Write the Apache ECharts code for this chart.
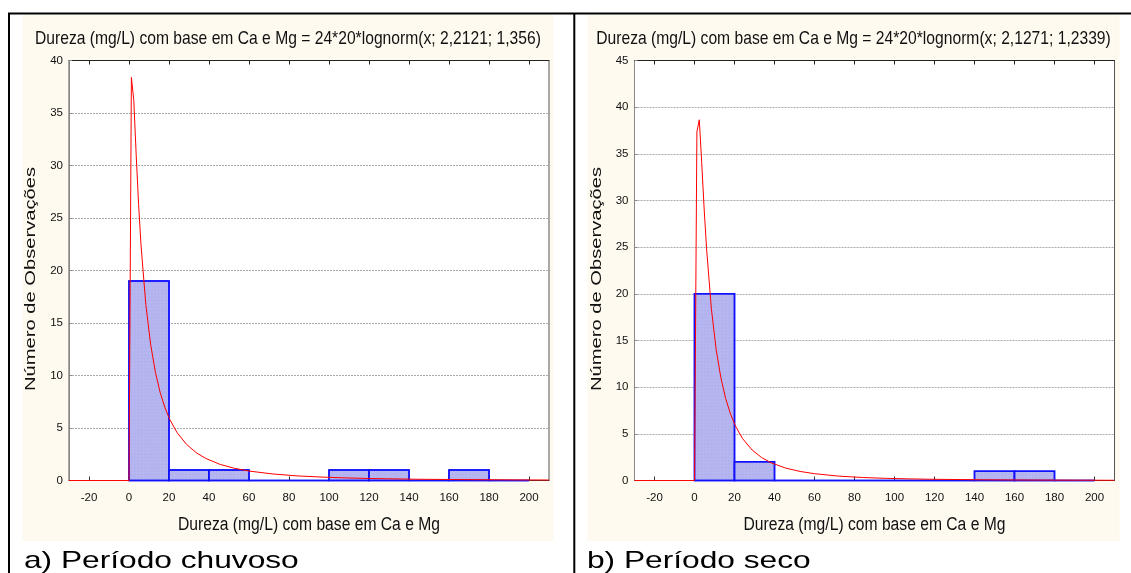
<!DOCTYPE html>
<html>
<head>
<meta charset="utf-8">
<script src="https://cdn.jsdelivr.net/npm/echarts@6/dist/echarts.min.js"></script>
<style>
  html, body { margin: 0; padding: 0; background: #ffffff; }
  #chart { width: 1131px; height: 573px; }
</style>
</head>
<body>
<div id="chart"></div>
<script>
// ---------------- data ----------------
const binStarts = [0, 20, 40, 60, 80, 100, 120, 140, 160, 180];
const binWidth = 20;
const chuvosoCounts = [19, 1, 1, 0, 0, 1, 1, 0, 1, 0];
const secoCounts = [20, 2, 0, 0, 0, 0, 0, 1, 1, 0];

const curveX = [-30, 0, 1.2, 2.4, 3.6, 4.8, 6, 8.4, 10.8, 13.2, 15.6, 18, 20.4, 24, 28.8, 33.6, 38.4, 45.6, 52.8, 60, 72, 84, 96, 108, 120, 144, 168, 192, 210];
const chuvosoCurve = [0, 0, 38.39, 36.20, 30.99, 26.29, 22.43, 16.78, 12.98, 10.31, 8.37, 6.92, 5.81, 4.57, 3.43, 2.65, 2.10, 1.53, 1.16, 0.90, 0.62, 0.44, 0.33, 0.25, 0.19, 0.12, 0.084, 0.059, 0.047];
const secoCurve = [0, 0, 37.35, 38.65, 34.07, 29.19, 24.93, 18.47, 14.07, 10.99, 8.77, 7.12, 5.87, 4.50, 3.27, 2.45, 1.89, 1.33, 0.97, 0.73, 0.47, 0.32, 0.23, 0.17, 0.13, 0.076, 0.048, 0.032, 0.025];

const xTickValues = [-20, 0, 20, 40, 60, 80, 100, 120, 140, 160, 180, 200];
const titleChuvoso = 'Dureza (mg/L) com base em Ca e Mg = 24*20*lognorm(x; 2,2121; 1,356)';
const titleSeco = 'Dureza (mg/L) com base em Ca e Mg = 24*20*lognorm(x; 2,1271; 1,2339)';
const xName = 'Dureza (mg/L) com base em Ca e Mg';
const yName = 'Número de Observações';
const captionA = 'a) Período chuvoso';
const captionB = 'b) Período seco';

// ---------------- helpers ----------------
const FONT = "'Liberation Sans', Arial, sans-serif";
const chart = echarts.init(document.getElementById('chart'));

function histData(counts) {
  return binStarts.map((b, i) => [b, b + binWidth, counts[i]]);
}
function curveData(ys) {
  return curveX.map((x, i) => [x, ys[i]]);
}
function renderBar(params, api) {
  const x0 = api.value(0), x1 = api.value(1), c = api.value(2);
  const p0 = api.coord([x0, c]);
  const p1 = api.coord([x1, 0]);
  return {
    type: 'rect',
    shape: { x: p0[0], y: p0[1], width: p1[0] - p0[0], height: p1[1] - p0[1] },
    style: {
      fill: '#b9b9f2', stroke: '#1010ff', lineWidth: 1.5,
      decal: { symbol: 'rect', symbolSize: 1, dashArrayX: [1, 1], dashArrayY: [1, 1], rotation: Math.PI / 4, color: 'rgba(150,150,225,0.55)' }
    }
  };
}

const grids = [
  { left: 69, top: 60.5, width: 480, height: 420 },
  { left: 634.5, top: 60.5, width: 480, height: 420 }
];

function xAxes(gridIndex) {
  return [
    {
      type: 'value', gridIndex, position: 'bottom', min: -30, max: 210,
      axisLine: { show: true, onZero: false, lineStyle: { color: '#333', width: 1 } },
      axisTick: { show: true, inside: true, length: 4, customValues: xTickValues, lineStyle: { color: '#333' } },
      axisLabel: { show: true, customValues: xTickValues, margin: 11, color: '#111', fontSize: 11.5, fontFamily: FONT },
      splitLine: { show: false }
    },
    {
      type: 'value', gridIndex, position: 'top', min: -30, max: 210,
      axisLine: { show: true, onZero: false, lineStyle: { color: '#222', width: 1 } },
      axisTick: { show: true, inside: true, length: 4, customValues: xTickValues, lineStyle: { color: '#222' } },
      axisLabel: { show: false },
      splitLine: { show: false }
    }
  ];
}
function yAxis(gridIndex, max) {
  return {
    type: 'value', gridIndex, min: 0, max, interval: 5, position: 'left',
    axisLine: { show: true, onZero: false, lineStyle: { color: '#888', width: 1 } },
    axisTick: { show: true, inside: true, length: 3, lineStyle: { color: '#888' } },
    axisLabel: { margin: 6, color: '#111', fontSize: 11.5, fontFamily: FONT },
    splitLine: { show: true, lineStyle: { color: '#aaa', type: [2, 1], width: 1 } }
  };
}

function textEl(text, x, y, size, opts) {
  return Object.assign({
    type: 'text', x, y, z: 100,
    style: { text, fontSize: size, fontFamily: FONT, fill: '#111', textAlign: 'center', textVerticalAlign: 'middle' }
  }, opts || {});
}

const graphics = [
  // cream panels
  { type: 'rect', z: -10, shape: { x: 22.5, y: 15, width: 531, height: 526 }, style: { fill: '#fffaf0' } },
  { type: 'rect', z: -10, shape: { x: 587.5, y: 15, width: 532, height: 526 }, style: { fill: '#fffaf0' } },
  // black frame lines
  { type: 'line', z: 50, shape: { x1: 8, y1: 13.5, x2: 1131, y2: 13.5 }, style: { stroke: '#000', lineWidth: 2 } },
  { type: 'line', z: 50, shape: { x1: 9, y1: 13, x2: 9, y2: 573 }, style: { stroke: '#000', lineWidth: 2 } },
  { type: 'line', z: 50, shape: { x1: 574.3, y1: 13, x2: 574.3, y2: 573 }, style: { stroke: '#000', lineWidth: 2 } },
  // titles
  textEl(titleChuvoso, 288, 38.5, 18.5, { scaleX: 0.846 }),
  textEl(titleSeco, 853.5, 38.5, 18.5, { scaleX: 0.846 }),
  // x axis names
  textEl(xName, 309, 525, 18, { scaleX: 0.87 }),
  textEl(xName, 874.5, 525, 18, { scaleX: 0.87 }),
  // y axis names
  textEl(yName, 31, 279, 15.5, { rotation: Math.PI / 2, scaleX: 1.3 }),
  textEl(yName, 597, 279, 15.5, { rotation: Math.PI / 2, scaleX: 1.3 }),
  // captions
  { type: 'text', x: 24, y: 561.5, z: 100, scaleX: 1.32,
    style: { text: captionA, fontSize: 24, fontFamily: FONT, fill: '#000', textAlign: 'left', textVerticalAlign: 'middle' } },
  { type: 'text', x: 587, y: 561.5, z: 100, scaleX: 1.32,
    style: { text: captionB, fontSize: 24, fontFamily: FONT, fill: '#000', textAlign: 'left', textVerticalAlign: 'middle' } }
];

const option = {
  animation: false,
  backgroundColor: '#ffffff',
  grid: grids.map(g => Object.assign({ show: true, backgroundColor: '#ffffff', borderColor: '#555', borderWidth: 1 }, g)),
  xAxis: [].concat(xAxes(0), xAxes(1)),
  yAxis: [yAxis(0, 40), yAxis(1, 45)],
  graphic: graphics,
  series: [
    { type: 'custom', name: 'chuvoso', xAxisIndex: 0, yAxisIndex: 0, renderItem: renderBar,
      encode: { x: [0, 1], y: 2 }, data: histData(chuvosoCounts), z: 2 },
    { type: 'line', name: 'ajuste chuvoso', xAxisIndex: 0, yAxisIndex: 0, data: curveData(chuvosoCurve),
      showSymbol: false, symbol: 'none', lineStyle: { color: '#ff0000', width: 1 }, itemStyle: { color: '#ff0000' }, z: 5 },
    { type: 'custom', name: 'seco', xAxisIndex: 2, yAxisIndex: 1, renderItem: renderBar,
      encode: { x: [0, 1], y: 2 }, data: histData(secoCounts), z: 2 },
    { type: 'line', name: 'ajuste seco', xAxisIndex: 2, yAxisIndex: 1, data: curveData(secoCurve),
      showSymbol: false, symbol: 'none', lineStyle: { color: '#ff0000', width: 1 }, itemStyle: { color: '#ff0000' }, z: 5 }
  ]
};
chart.setOption(option);
</script>
</body>
</html>
